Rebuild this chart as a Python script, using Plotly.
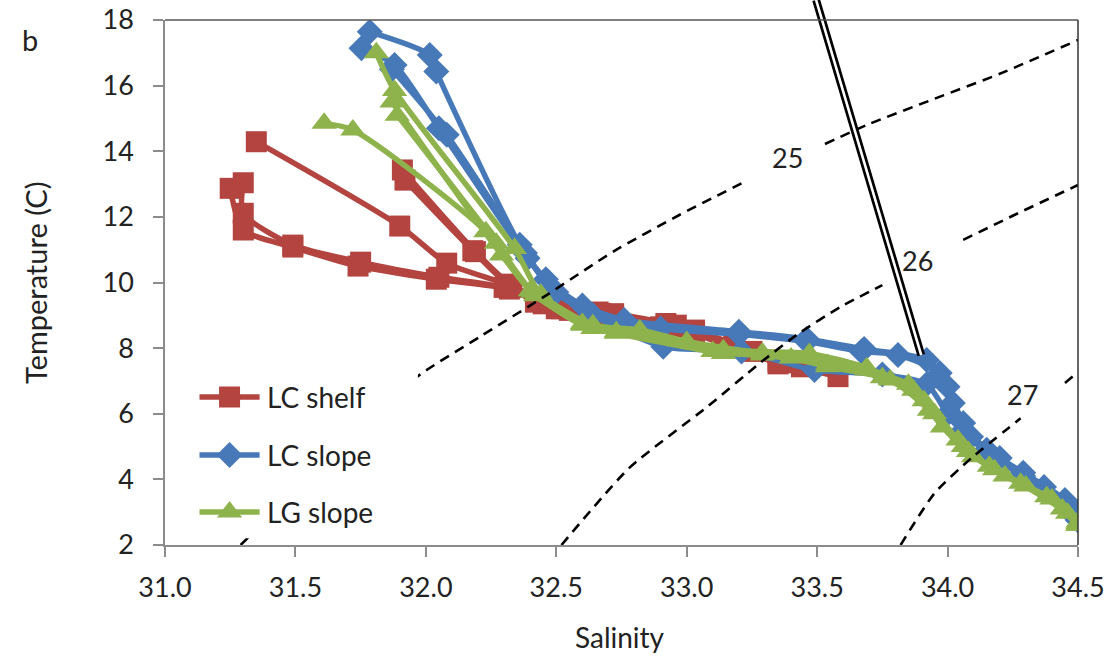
import plotly.graph_objects as go

# ---- axis ticks ----
sal_ticks = [31.0, 31.5, 32.0, 32.5, 33.0, 33.5, 34.0, 34.5]
temp_ticks = [2, 4, 6, 8, 10, 12, 14, 16, 18]

# ---- LC shelf profiles ----
lc_shelf_sal = [
    [31.35, 31.90, 32.08, 32.32, 32.52, 32.72, 32.92, 33.18, 33.38],
    [31.30, 31.30, 31.49, 31.75, 32.05, 32.30, 32.45, 32.66, 32.90, 33.03, 33.44],
    [31.25, 31.30, 31.49, 31.74, 32.04, 32.32, 32.50, 32.70, 32.96, 33.35, 33.58],
    [31.91, 32.19, 32.32, 32.42, 32.67, 33.03, 33.25],
    [31.92, 32.18, 32.33, 32.55, 32.95, 33.35],
]
lc_shelf_temp = [
    [14.29, 11.72, 10.59, 9.92, 9.20, 9.05, 8.75, 8.10, 7.55],
    [13.04, 12.11, 11.14, 10.62, 10.16, 9.85, 9.35, 9.10, 8.65, 8.50, 7.43],
    [12.87, 11.60, 11.08, 10.50, 10.10, 9.80, 9.20, 9.00, 8.70, 7.60, 7.13],
    [13.43, 10.94, 9.95, 9.40, 9.06, 8.55, 7.90],
    [13.12, 10.97, 9.85, 9.15, 8.62, 7.52],
]

# ---- LC slope profiles ----
lc_slope_sal = [
    [31.785, 32.015, 32.04, 32.36, 32.46, 32.60, 32.76, 33.20, 33.46, 33.68, 33.92,
     34.00, 34.06, 34.15, 34.29, 34.45, 34.50],
    [31.753, 31.88, 32.05, 32.39, 32.50, 32.64, 32.90, 33.20, 33.46, 33.67, 33.81,
     33.97, 34.02, 34.09, 34.20, 34.37, 34.49],
    [31.87, 32.08, 32.38, 32.48, 32.64, 32.91, 33.21, 33.49, 33.75, 33.92, 34.00,
     34.06, 34.15, 34.29, 34.45, 34.50],
]
lc_slope_temp = [
    [17.64, 16.93, 16.43, 11.15, 10.10, 9.30, 8.86, 8.50, 8.28, 7.97, 7.64,
     6.82, 5.72, 4.90, 4.20, 3.37, 2.75],
    [17.14, 16.63, 14.70, 10.74, 9.70, 9.00, 8.60, 8.42, 8.20, 7.90, 7.79,
     7.24, 6.33, 5.30, 4.65, 3.77, 2.85],
    [16.50, 14.50, 10.90, 9.80, 9.00, 8.04, 7.90, 7.33, 7.20, 6.90, 6.00,
     5.50, 4.80, 4.10, 3.30, 3.00],
]

# ---- LG slope profiles ----
lg_slope_sal = [
    [31.81, 31.88, 32.34, 32.44, 32.64, 32.82, 33.14, 33.47, 33.69, 33.87, 33.98,
     34.10, 34.28, 34.46, 34.50],
    [31.87, 32.29, 32.42, 32.64, 32.73, 33.14, 33.29, 33.54, 33.78, 33.93, 34.06,
     34.18, 34.38, 34.50],
    [31.89, 32.27, 32.40, 32.60, 32.82, 33.00, 33.29, 33.47, 33.69, 33.85, 33.95,
     34.08, 34.22, 34.40, 34.50],
    [31.61, 31.72, 32.23, 32.41, 32.60, 32.73, 33.10, 33.40, 33.54, 33.75, 33.91,
     34.04, 34.16, 34.30, 34.44, 34.50],
]
lg_slope_temp = [
    [17.00, 15.85, 11.04, 9.65, 8.71, 8.55, 7.95, 7.84, 7.40, 6.72, 5.60,
     4.69, 3.88, 2.97, 2.70],
    [15.50, 10.84, 9.60, 8.60, 8.45, 7.84, 7.79, 7.50, 7.03, 6.11, 5.00,
     4.29, 3.47, 2.60],
    [15.10, 11.20, 9.75, 8.75, 8.50, 8.20, 7.85, 7.75, 7.33, 6.90, 6.00,
     4.85, 4.10, 3.40, 2.65],
    [14.85, 14.65, 11.55, 9.70, 8.70, 8.50, 7.90, 7.70, 7.43, 7.10, 6.40,
     5.20, 4.40, 3.80, 3.10, 2.60],
]

# ---- isopycnals (sigma-t), split where the label sits ----
sigma_levels = ["25", "26", "27"]
iso25_sal = [[31.29, 31.95, 32.21, 32.46, 32.72, 32.97, 33.23],
             [33.53, 33.69, 33.95, 34.20, 34.50]]
iso25_temp = [[2.00, 7.03, 8.36, 9.60, 10.95, 12.05, 13.10],
              [14.22, 14.80, 15.60, 16.36, 17.39]]
iso26_sal = [[32.52, 32.78, 33.08, 33.28, 33.43, 33.59, 33.75],
             [34.06, 34.27, 34.50]]
iso26_temp = [[2.00, 4.35, 6.22, 7.54, 8.45, 9.26, 9.92],
              [11.30, 12.11, 12.97]]
iso27_sal = [[33.82, 33.95, 34.09, 34.28],
             [34.45, 34.50]]
iso27_temp = [[2.00, 3.58, 4.64, 5.86],
              [6.94, 7.27]]
label_sal = [33.387, 33.886, 34.289]
label_temp = [13.81, 10.66, 6.60]

# ---- marked section (double line) ----
section_sal = [33.496, 33.899]
section_temp = [18.61, 7.79]

series_names = ["LC shelf", "LC slope", "LG slope"]
colors = ["#B3443F", "#4779B8", "#8EB34D"]
symbols = ["square", "diamond", "triangle-up"]
msizes = [21, 20, 22]

X0, X1 = 31.0, 34.5
Y0, Y1 = 2.0, 18.0
FONT = "Lato, 'Open Sans', sans-serif"
TXT = "#222222"

fig = go.Figure()

groups = [(lc_shelf_sal, lc_shelf_temp), (lc_slope_sal, lc_slope_temp),
          (lg_slope_sal, lg_slope_temp)]
for k, (sals, temps) in enumerate(groups):
    for s, t in zip(sals, temps):
        fig.add_trace(go.Scatter(
            x=s, y=t, mode="lines+markers", showlegend=False,
            line=dict(color=colors[k], width=5.5, shape="spline", smoothing=0.7),
            marker=dict(symbol=symbols[k], size=msizes[k], color=colors[k],
                        line=dict(width=0)),
            hoverinfo="skip"))

# isopycnals drawn over the profiles
for sals, temps in [(iso25_sal, iso25_temp), (iso26_sal, iso26_temp),
                    (iso27_sal, iso27_temp)]:
    for s, t in zip(sals, temps):
        fig.add_trace(go.Scatter(
            x=s, y=t, mode="lines", showlegend=False, hoverinfo="skip",
            line=dict(color="black", width=2.6, dash="10px,7px",
                      shape="spline", smoothing=0.6)))

for lab, s, t in zip(sigma_levels, label_sal, label_temp):
    fig.add_annotation(x=s, y=t, xref="x", yref="y", text=lab, showarrow=False,
                       xanchor="center", yanchor="middle",
                       font=dict(family=FONT, size=27, color=TXT))

# legend box on an overlay axis (0..1 across the plot area)
box_x = [0.016, 0.277, 0.277, 0.016, 0.016]
box_y = [0.013, 0.013, 0.335, 0.335, 0.013]
fig.add_trace(go.Scatter(x=box_x, y=box_y, xaxis="x2", yaxis="y2", mode="lines",
                         fill="toself", fillcolor="white",
                         line=dict(width=0, color="white"),
                         showlegend=False, hoverinfo="skip"))
leg_y = [0.2819, 0.1714, 0.0629]
leg_x = [0.0378, 0.1036]
for k in range(3):
    fig.add_trace(go.Scatter(x=leg_x, y=[leg_y[k]] * 2, xaxis="x2", yaxis="y2",
                             mode="lines", line=dict(color=colors[k], width=5.5),
                             showlegend=False, hoverinfo="skip"))
    fig.add_trace(go.Scatter(x=[sum(leg_x) / 2], y=[leg_y[k]], xaxis="x2", yaxis="y2",
                             mode="markers",
                             marker=dict(symbol=symbols[k], size=msizes[k],
                                         color=colors[k], line=dict(width=0)),
                             showlegend=False, hoverinfo="skip"))
    fig.add_annotation(x=0.110, y=leg_y[k], xref="x2", yref="y2",
                       text=series_names[k], showarrow=False, xanchor="left",
                       yanchor="middle",
                       font=dict(family=FONT, size=28, color=TXT))

# double line marking the section
px = [(s - X0) / (X1 - X0) for s in section_sal]
py = [(t - Y0) / (Y1 - Y0) for t in section_temp]
fig.add_shape(type="line", xref="paper", yref="paper", x0=px[0], y0=py[0],
              x1=px[1], y1=py[1], line=dict(color="black", width=8), layer="above")
fig.add_shape(type="line", xref="paper", yref="paper", x0=px[0], y0=py[0],
              x1=px[1], y1=py[1], line=dict(color="white", width=2.6), layer="above")

# frame top and right
fig.add_shape(type="line", xref="paper", yref="paper", x0=0, y0=1, x1=1, y1=1,
              line=dict(color="#555555", width=1.5), layer="above")
fig.add_shape(type="line", xref="paper", yref="paper", x0=1, y0=0, x1=1, y1=1,
              line=dict(color="#333333", width=1.5), layer="above")

# axis titles and panel letter (paper units relative to the plot area)
PW, PH = 1109 - 165 - 31, 659 - 20 - 114


def px_to_paper(xp, yp):
    return (xp - 165) / PW, (659 - 114 - yp) / PH


sx, sy = px_to_paper(620, 637)
fig.add_annotation(x=sx, y=sy, xref="paper", yref="paper", text="Salinity",
                   showarrow=False, xanchor="center", yanchor="middle",
                   font=dict(family=FONT, size=28, color=TXT))
tx, ty = px_to_paper(35, 283)
fig.add_annotation(x=tx, y=ty, xref="paper", yref="paper",
                   text="Temperature (C)", textangle=-90, showarrow=False,
                   xanchor="center", yanchor="middle",
                   font=dict(family=FONT, size=29, color=TXT))
bx, by = px_to_paper(30, 40)
fig.add_annotation(x=bx, y=by, xref="paper", yref="paper", text="b",
                   showarrow=False, xanchor="center", yanchor="middle",
                   font=dict(family=FONT, size=29, color=TXT))

axis_common = dict(showgrid=False, zeroline=False, showline=True, automargin=False,
                   linecolor="#8C8C8C", linewidth=1.5, ticks="outside", ticklen=10,
                   tickcolor="#8C8C8C", tickwidth=1.5,
                   tickfont=dict(family=FONT, size=27, color=TXT))

fig.update_layout(
    width=1109, height=659,
    margin=dict(l=165, r=31, t=20, b=114),
    paper_bgcolor="white", plot_bgcolor="white",
    showlegend=False,
    xaxis=dict(range=[X0, X1], tickvals=sal_ticks, ticklabelstandoff=8,
               ticktext=[f"{v:.1f}" for v in sal_ticks], **axis_common),
    yaxis=dict(range=[Y0, Y1], tickvals=temp_ticks, ticklabelstandoff=14,
               ticktext=[str(v) for v in temp_ticks], **axis_common),
    xaxis2=dict(range=[0, 1], overlaying="x", visible=False, fixedrange=True),
    yaxis2=dict(range=[0, 1], overlaying="y", visible=False, fixedrange=True),
)

fig.write_html("out.html")
